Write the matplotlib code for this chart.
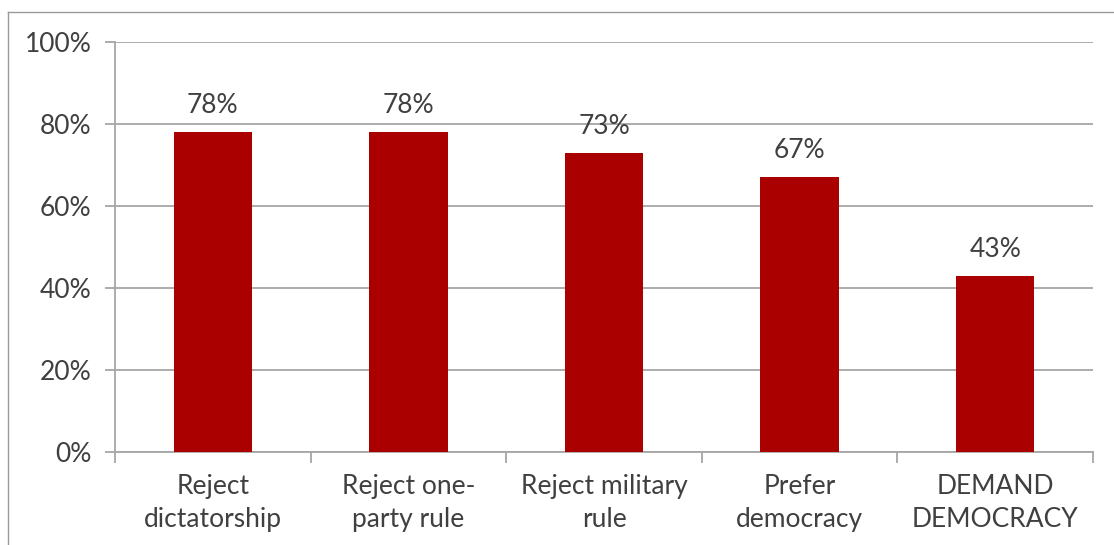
import matplotlib.pyplot as plt
from matplotlib.lines import Line2D
from matplotlib.ticker import PercentFormatter

# data
categories = ["Reject\ndictatorship", "Reject one-\nparty rule", "Reject military\nrule",
              "Prefer\ndemocracy", "DEMAND\nDEMOCRACY"]
values = [78, 78, 73, 67, 43]

text_color = "#404040"
grid_color = "#a6a6a6"
bar_color = "#aa0000"

plt.rcParams["font.family"] = ["Lato", "DejaVu Sans"]

fig = plt.figure(figsize=(11.14, 5.45), dpi=100)
ax = fig.add_axes([115 / 1114, 1 - 452 / 545, (1093 - 115) / 1114, (452 - 42) / 545])

x = range(len(categories))
bars = ax.bar(x, values, width=0.4, color=bar_color, zorder=3)
for xi, v in zip(x, values):
    ax.annotate(f"{v}%", (xi, v), xytext=(0, 10), textcoords="offset points",
                ha="center", va="bottom", fontsize=19, color=text_color)

ax.set_xlim(-0.5, len(categories) - 0.5)
ax.set_ylim(0, 100)
ax.set_yticks(range(0, 101, 20))
ax.yaxis.set_major_formatter(PercentFormatter(decimals=0))
ax.grid(axis="y", color=grid_color, linewidth=1.3, zorder=0)

ax.set_xticks([i + 0.5 for i in range(-1, len(categories))], minor=False)
ax.set_xticklabels([])
ax.set_xticks(list(x), minor=True)
ax.set_xticklabels(categories, minor=True, fontsize=19, color=text_color, linespacing=1.38)
ax.tick_params(axis="x", which="major", length=8, color=grid_color, width=1.3)
ax.tick_params(axis="x", which="minor", length=0, pad=16)
ax.tick_params(axis="y", length=7, color=grid_color, width=1.3, labelsize=19,
               labelcolor=text_color, pad=10)

for side in ["top", "right"]:
    ax.spines[side].set_visible(False)
for side in ["left", "bottom"]:
    ax.spines[side].set_color(grid_color)
    ax.spines[side].set_linewidth(1.3)

# outer frame lines
fig.add_artist(Line2D([8 / 1114, 1], [1 - 12 / 545, 1 - 12 / 545], color="#999999", linewidth=1))
fig.add_artist(Line2D([8 / 1114, 8 / 1114], [0, 1 - 12 / 545], color="#999999", linewidth=1))

fig.savefig("out.png", dpi=100)
